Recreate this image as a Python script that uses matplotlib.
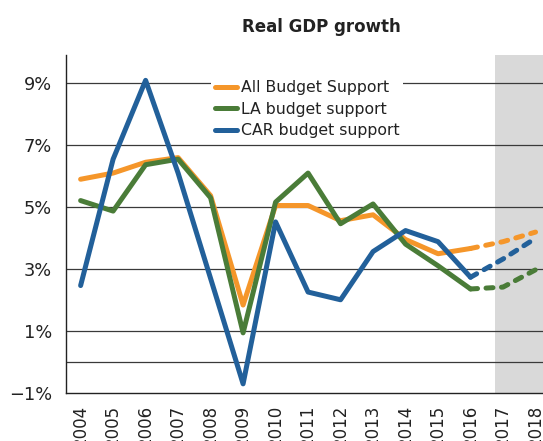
import numpy as np
import matplotlib.pyplot as plt

years = np.arange(2004, 2019)
all_bs = [5.9, 6.1, 6.45, 6.6, 5.37, 1.83, 5.05, 5.05, 4.56, 4.75, 3.95, 3.49, 3.66, 3.88, 4.19]
la_bs = [5.21, 4.87, 6.37, 6.55, 5.3, 0.93, 5.16, 6.1, 4.46, 5.1, 3.8, 3.1, 2.35, 2.41, 2.97]
car_bs = [2.46, 6.55, 9.1, 6.1, 2.69, -0.72, 4.52, 2.25, 2.0, 3.56, 4.24, 3.88, 2.73, 3.32, 3.99]
forecast_from = 2016  # dashed from here on

series = [
    ("All Budget Support", all_bs, "#F5962A"),
    ("LA budget support", la_bs, "#4A7C38"),
    ("CAR budget support", car_bs, "#22609A"),
]

fig = plt.figure(figsize=(5.43, 4.41), dpi=100)
ax = fig.add_axes([66/543, 1-392.5/441, 477/543, 337.5/441])

ax.axvspan(2016.75, 2019, color="#D9D9D9", lw=0, zorder=0)
for v in [0, 1, 3, 5, 7, 9]:
    ax.axhline(v, color="#3A3A3A", lw=0.9, zorder=1)

i = list(years).index(forecast_from)
for name, vals, col in series:
    ax.plot(years[:i+1], vals[:i+1], color=col, lw=3.6, solid_joinstyle="round",
            solid_capstyle="round", label=name, zorder=3)
    ax.plot(years[i:], vals[i:], color=col, lw=3.6, ls=(0, (1.4, 1.7)),
            dash_capstyle="round", zorder=3)

ax.set_xlim(2003.55, 2018.23)
ax.set_ylim(-1, 9.92)
ax.set_yticks([-1, 1, 3, 5, 7, 9])
ax.set_yticklabels(["\u22121%", "1%", "3%", "5%", "7%", "9%"])
ax.set_xticks(years)
ax.set_xticklabels([str(y) for y in years], rotation=90)
ax.tick_params(axis="y", length=0, pad=10, labelsize=12.8, colors="#222222")
ax.tick_params(axis="x", length=0, pad=9, labelsize=12, colors="#222222")
for s in ["top", "right"]:
    ax.spines[s].set_visible(False)
for s in ["left", "bottom"]:
    ax.spines[s].set_color("#222222")
    ax.spines[s].set_linewidth(1.0)

leg = ax.legend(loc="upper left", bbox_to_anchor=(0.305, 0.935), borderaxespad=0,
                fontsize=11.3, handlelength=1.45, handletextpad=0.25,
                labelspacing=0.42, borderpad=0.2, frameon=True, fancybox=False)
leg.get_frame().set_facecolor("white")
leg.get_frame().set_edgecolor("none")
leg.get_frame().set_alpha(1)
leg.set_zorder(2)
for t in leg.get_texts():
    t.set_color("#222222")

fig.text(321/543, 1-27/441, "Real GDP growth", ha="center", va="center",
         fontsize=12, fontweight="bold", color="#222222")

fig.savefig("out.png", dpi=100)
